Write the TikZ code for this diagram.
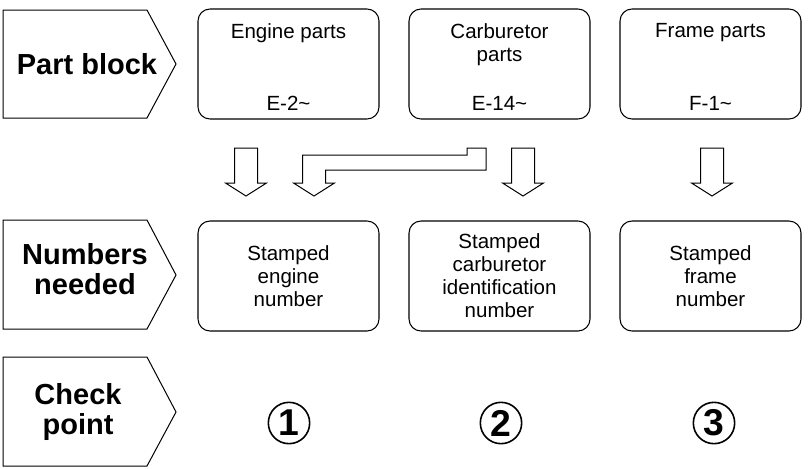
\documentclass[tikz,border=0pt]{standalone}
\usepackage{fontspec}
\setmainfont{Liberation Sans}
\usetikzlibrary{positioning}
\begin{document}
\begin{tikzpicture}[x=0.75pt,y=0.75pt,yscale=-1,xscale=1,
	tag/.style={font=\bfseries\fontsize{21.75}{22.5}\selectfont,align=center,inner sep=0pt},
	tagshape/.style={draw,line width=0.75pt},
	partbox/.style={draw,line width=0.8pt,rounded corners=9pt,minimum width=135.75pt,minimum height=82.5pt,inner sep=0pt,
		font=\fontsize{15.4}{17.25}\selectfont,align=center},
	txt/.style={font=\fontsize{15.4}{17.25}\selectfont,align=center,inner sep=0pt},
	blockarrow/.style={draw,line width=0.75pt,fill=white},
	ring/.style={draw,circle,line width=1.2pt,minimum size=31pt,inner sep=0pt,font=\bfseries\fontsize{28}{28}\selectfont}]
	\useasboundingbox (0,0) rectangle (809,468);
	% row labels
	\draw [tagshape] (3,10) -- (147,10) -- (176,64) -- (147,118) -- (3,118) -- cycle ;
	\draw [tagshape] (3,220) -- (147,220) -- (176,275) -- (147,329) -- (3,329) -- cycle ;
	\draw [tagshape] (3,357) -- (147,357) -- (176,412) -- (147,466) -- (3,466) -- cycle ;
	\node [tag,anchor=base] (partTag) at (87,74) {Part block};
	\node [tag,anchor=north] (numTag) at (85,243) {Numbers\\needed};
	\node [tag,anchor=north] (checkTag) at (78,383) {Check\\point};
	% part blocks
	\node [partbox] (engine) at (288.5,64) {};
	\node [partbox] (carb) at (499.5,64) {};
	\node [partbox] (frame) at (710.5,64) {};
	\node [txt,anchor=north] (engineName) at (288.5,23) {Engine parts};
	\node [txt,anchor=north] (carbName) at (499.5,23) {Carburetor\\parts};
	\node [txt,anchor=north] (frameName) at (710.5,23) {Frame parts};
	\node [txt,anchor=base] (enginePage) at (288.5,110) {E-2\textasciitilde};
	\node [txt,anchor=base] (carbPage) at (499.5,110) {E-14\textasciitilde};
	\node [txt,anchor=base] (framePage) at (710.5,110) {F-1\textasciitilde};
	% hollow arrows
	\draw [blockarrow] (234.5,148) -- (257.5,148) -- (257.5,183) -- (266.5,183) -- (246,196) -- (225.5,183) -- (234.5,183) -- cycle ;
	\draw [blockarrow] (467,148) -- (486,148) -- (486,170) -- (325.5,170) -- (325.5,183) -- (334.5,183) -- (314,196) -- (293.5,183) -- (302.5,183) -- (302.5,155) -- (467,155) -- cycle ;
	\draw [blockarrow] (511.5,148) -- (534.5,148) -- (534.5,183) -- (543.5,183) -- (523,196) -- (502.5,183) -- (511.5,183) -- cycle ;
	\draw [blockarrow] (700.5,148) -- (723.5,148) -- (723.5,183) -- (732.5,183) -- (712,196) -- (691.5,183) -- (700.5,183) -- cycle ;
	% numbers needed
	\node [partbox] (engineNo) at (288.5,276) {Stamped\\engine\\number};
	\node [partbox] (carbNo) at (499.5,276) {Stamped\\carburetor\\identification\\number};
	\node [partbox] (frameNo) at (710.5,276) {Stamped\\frame\\number};
	% check points
	\node [ring] (check1) at (289,423) {1};
	\node [ring] (check2) at (501,423) {2};
	\node [ring] (check3) at (714,423) {3};
\end{tikzpicture}
\end{document}
